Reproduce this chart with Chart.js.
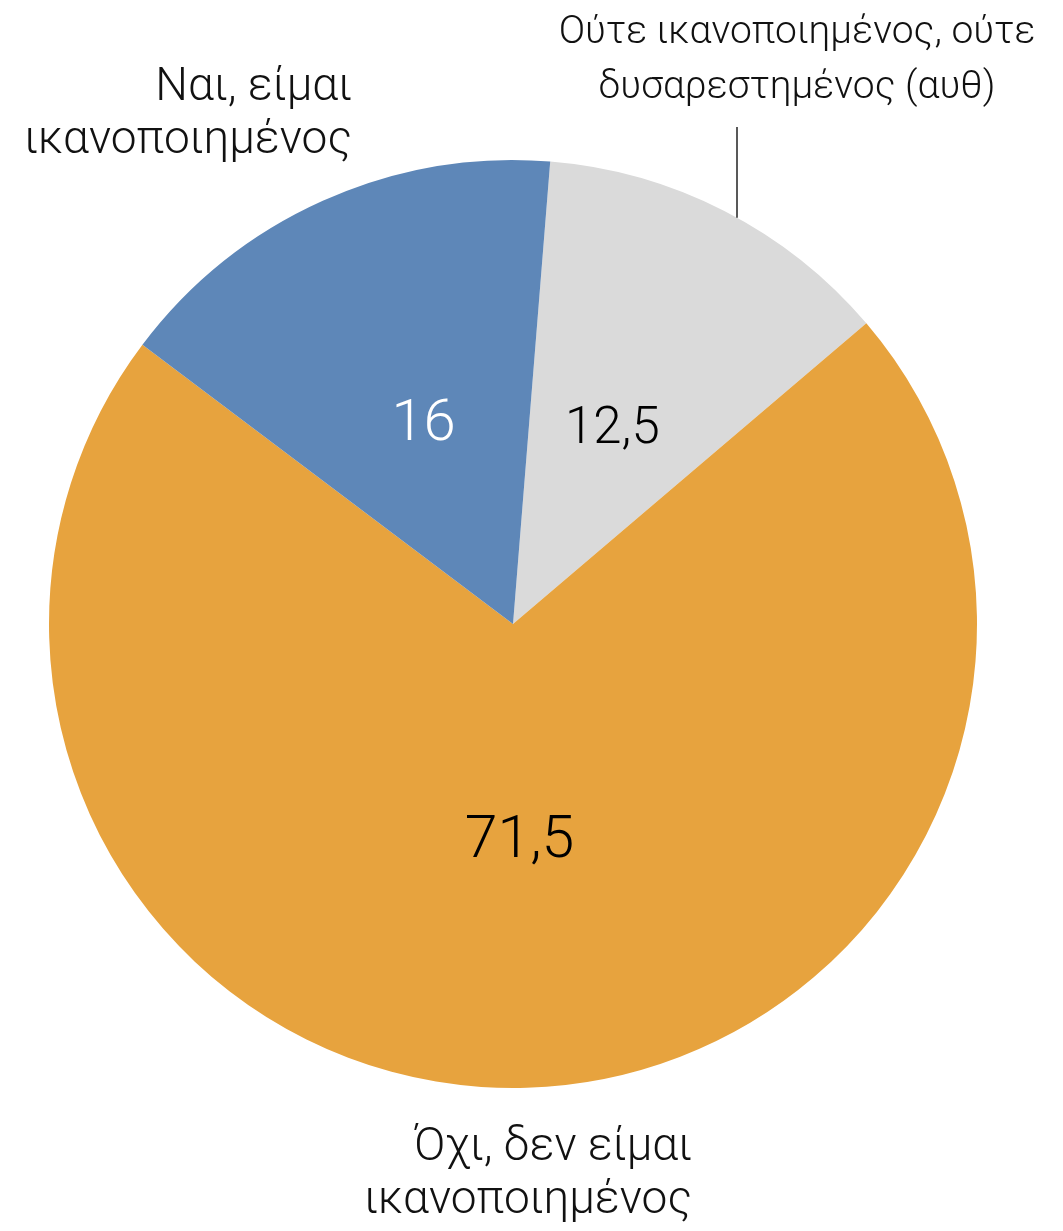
<!DOCTYPE html>
<html>
<head>
<meta charset="utf-8">
<script src="https://cdn.jsdelivr.net/npm/chart.js@4.4.1/dist/chart.umd.min.js"></script>
<style>
  html, body { margin: 0; padding: 0; background: #fff; }
  #wrap { width: 1063px; height: 1231px; }
</style>
</head>
<body>
<div id="wrap"><canvas id="grafico" width="1063" height="1231"></canvas></div>
<script>
    // Datos del gráfico (orden horario desde arriba)
    const categorias = [
        ['Ούτε ικανοποιημένος, ούτε', 'δυσαρεστημένος (αυθ)'],
        ['Όχι, δεν είμαι', 'ικανοποιημένος'],
        ['Ναι, είμαι', 'ικανοποιημένος']
    ];
    const valores = [12.5, 71.5, 16];

    const colores = ['#DADADA', '#E7A33E', '#5E87B8'];
    const coloresValor = ['#000', '#000', '#fff'];
    const tamValor = [51, 59, 58];
    const fuente = '"Roboto", "Liberation Sans", sans-serif';

    // Etiquetas exteriores: desplazamiento respecto al centro del pastel
    const posEtiquetas = [
        { dx: 284, dy: -581, align: 'center', size: 39, linea: 55, conector: 224 },
        { dx: 179, dy: 536, align: 'right', size: 46, linea: 53 },
        { dx: -161, dy: -524, align: 'right', size: 46, linea: 53 }
    ];

    const formato = v => String(v).replace('.', ',');

    const etiquetas = {
        id: 'etiquetas',
        afterDatasetsDraw(chart) {
            const ctx = chart.ctx;
            const meta = chart.getDatasetMeta(0);
            ctx.save();
            meta.data.forEach((arc, i) => {
                const { x, y, startAngle, endAngle, outerRadius } = arc.getProps(['x', 'y', 'startAngle', 'endAngle', 'outerRadius'], true);
                const medio = (startAngle + endAngle) / 2;
                const d = outerRadius * 0.47;
                ctx.fillStyle = coloresValor[i];
                ctx.font = `300 ${tamValor[i]}px ${fuente}`;
                ctx.textAlign = 'center';
                ctx.textBaseline = 'middle';
                ctx.fillText(formato(valores[i]), x + Math.cos(medio) * d, y + Math.sin(medio) * d);

                const p = posEtiquetas[i];
                ctx.fillStyle = '#111';
                ctx.font = `300 ${p.size}px ${fuente}`;
                ctx.textAlign = p.align;
                ctx.textBaseline = 'alphabetic';
                categorias[i].forEach((t, k) => {
                    ctx.fillText(t, x + p.dx, y + p.dy + k * p.linea);
                });

                if (p.conector) {
                    const cxl = x + p.conector;
                    const yArco = y - Math.sqrt(outerRadius * outerRadius - p.conector * p.conector);
                    ctx.strokeStyle = '#222';
                    ctx.lineWidth = 1.5;
                    ctx.beginPath();
                    ctx.moveTo(cxl, y + p.dy + p.linea + 29);
                    ctx.lineTo(cxl, yArco);
                    ctx.stroke();
                }
            });
            ctx.restore();
        }
    };

    new Chart(document.getElementById('grafico').getContext('2d'), {
        type: 'pie',
        data: {
            labels: categorias.map(c => c.join(' ')),
            datasets: [{
                data: valores,
                backgroundColor: colores,
                borderWidth: 0
            }]
        },
        options: {
            responsive: false,
            animation: false,
            rotation: 4.6,
            layout: { padding: { left: 49, right: 86, top: 160, bottom: 143 } },
            plugins: {
                legend: { display: false },
                tooltip: { enabled: false }
            }
        },
        plugins: [etiquetas]
    });
</script>
</body>
</html>
